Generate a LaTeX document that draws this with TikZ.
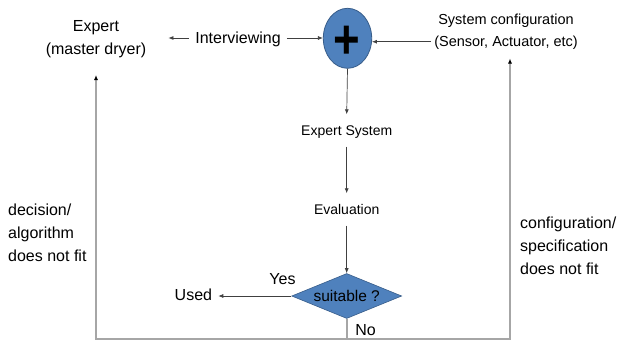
\documentclass[tikz,border=0pt]{standalone}
\usepackage{fontspec}
\setmainfont{Liberation Sans}
\usetikzlibrary{shapes.geometric,arrows.meta}
\definecolor{boxblue}{HTML}{4F81BD}
\definecolor{edgeblue}{HTML}{385D8A}
\definecolor{arrowgray}{HTML}{404040}
\definecolor{loopgray}{HTML}{A6A6A6}
\begin{document}
\begin{tikzpicture}[x=1pt,y=-1pt,
  lbl/.style={font=\fontsize{16}{23}\selectfont, inner sep=0pt, text=black},
  one/.style={lbl, text height=11.5pt, text depth=0pt},
  small/.style={font=\fontsize{14}{16}\selectfont, inner xsep=2pt, inner ysep=11pt, text height=10pt, text depth=0pt},
  arr/.style={draw=arrowgray, line width=0.7pt, -{Latex[length=5pt,width=4pt]}},
  loopline/.style={draw=loopgray, line width=1.8pt},
  looparr/.style={loopline, -{Latex[length=5pt,width=4pt,color=black]}},
]
\useasboundingbox (0,0) rectangle (618,340);

% nodes
\node[lbl, align=center, inner sep=2pt] (expert) at (96,39.5) {Expert\\(master dryer)};
\node[one, inner xsep=6pt] (interview) at (238,38) {Interviewing};
\node[ellipse, fill=boxblue, draw=edgeblue, line width=0.8pt, minimum width=48.4pt, minimum height=60pt, inner sep=0pt] (sum) at (347.5,38.3) {};
\node[font=\fontsize{48}{48}\selectfont\bfseries, inner sep=0pt] (plus) at (347.2,42) {\scalebox{0.95}[1.15]{+}};
\node[font=\fontsize{14.5}{22}\selectfont, align=center, inner xsep=3pt, inner ysep=0pt] (syscfg) at (506,32.2) {System configuration\\(Sensor, Actuator, etc)};
\node[small] (es) at (346.7,130.5) {Expert System};
\node[small] (eval) at (346.7,209.5) {Evaluation};
\node[diamond, aspect=2.44, fill=boxblue, draw=edgeblue, line width=0.6pt, minimum width=110pt, minimum height=45pt, inner sep=0pt,
      font=\fontsize{15.5}{18}\selectfont] (dia) at (346.7,296) {suitable ?};
\node[one] (yes) at (282.5,279) {Yes};
\node[one, inner xsep=3pt] (used) at (193.4,295) {Used};
\node[one] (no) at (365.5,329.5) {No};
\node[lbl, align=left, anchor=north west] (ltext) at (8,203.3) {\fontsize{16}{23.3}\selectfont decision/\\algorithm\\does not fit};
\node[lbl, align=left, anchor=north west] (rtext) at (520,216.3) {\fontsize{16}{23}\selectfont configuration/\\specification\\does not fit};

\coordinate (bl) at (96,338.7);
\coordinate (br) at (510,338.7);
\coordinate (lt) at (96,75);
\coordinate (rt) at (510,58.5);

% connectors
\draw[arr, shorten >=20pt] (interview.west) -- (interview.west -| expert.east);
\draw[arr] (interview.east) -- (interview.east -| sum.west);
\draw[arr] (sum.-8 -| syscfg.west) -- (sum.-8);
\draw[arr] (sum.south) -- (es.north);
\draw[arr] (es.south) -- (eval.north);
\draw[arr] (eval.south) -- (dia.north);
\draw[arr, shorten >=3pt] (dia.west) -- (dia.west -| used.east);
\draw[loopline] (dia.south) -- (dia.south |- bl);
\draw[looparr] (br) -- (bl) -- (lt);
\draw[looparr] (bl) -- (br) -- (rt);
\end{tikzpicture}
\end{document}
